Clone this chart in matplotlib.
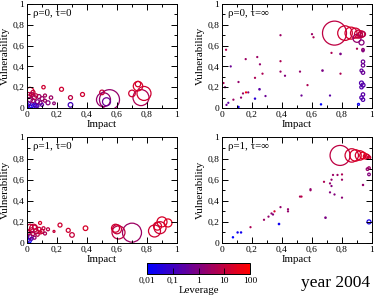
import numpy as np
import matplotlib
matplotlib.use('Agg')
import matplotlib.pyplot as plt
from matplotlib.colors import LinearSegmentedColormap, LogNorm
from matplotlib.ticker import FuncFormatter, MultipleLocator, LogLocator

plt.rcParams['font.family'] = ['Liberation Serif', 'DejaVu Serif']

# panel 1: rho=0, tau=0
imp1 = [0.02, 0.11, 0.23, 0.29, 0.37, 0.29, 0.14, 0.18, 0.16, 0.50, 0.51, 0.55, 0.53, 0.74, 0.74, 0.70, 0.78, 0.76,
        0.01, 0.03, 0.05, 0.06, 0.08, 0.10, 0.04, 0.07, 0.09, 0.02, 0.01, 0.03, 0.05, 0.07, 0.10, 0.02, 0.00, 0.12, 0.04, 0.06, 0.12]
vul1 = [0.16, 0.20, 0.18, 0.10, 0.13, 0.03, 0.05, 0.045, 0.10, 0.15, 0.08, 0.08, 0.06, 0.21, 0.23, 0.14, 0.14, 0.10,
        0.12, 0.13, 0.10, 0.12, 0.11, 0.09, 0.07, 0.06, 0.05, 0.08, 0.04, 0.02, 0.03, 0.02, 0.03, 0.01, 0.02, 0.12, 0.15, 0.02, 0.07]
lev1 = [20, 15, 15, 8, 15, 0.1, 1, 1.5, 3, 10, 2, 2, 0.5, 20, 20, 15, 15, 5,
        10, 5, 5, 8, 3, 2, 2, 1, 1, 3, 0.3, 0.05, 0.1, 0.2, 0.3, 0.02, 0.03, 4, 12, 0.05, 3]
cap1 = [4, 1.7, 2, 2, 2, 2.3, 2, 1.3, 1.7, 2.3, 7, 10, 4, 4.7, 2.7, 3.3, 7, 8,
        3, 2, 2, 1.7, 2, 2, 2, 2, 1.7, 2.5, 2, 2, 1.7, 1.5, 1.5, 2, 2.5, 1.5, 2, 2, 1.5]

# panel 2: rho=0, tau=inf
imp2 = [0.75, 0.82, 0.86, 0.89, 0.91, 0.93, 0.92, 0.94, 0.90, 0.93,
        0.94, 0.94, 0.94, 0.94, 0.93, 0.94, 0.93, 0.94, 0.93, 0.94, 0.93, 0.94, 0.91,
        0.39, 0.60, 0.61, 0.73, 0.79, 0.67, 0.79, 0.57, 0.53, 0.72, 0.66, 0.90,
        0.027, 0.158, 0.235, 0.39, 0.058, 0.253, 0.27, 0.39, 0.42, 0.52, 0.22, 0.01, 0.11, 0.02, 0.25,
        0.175, 0.16, 0.14, 0.29, 0.127, 0.22, 0.076, 0.042, 0.03, 0.11]
vul2 = [0.72, 0.72, 0.72, 0.72, 0.71, 0.71, 0.70, 0.71, 0.67, 0.63,
        0.56, 0.55, 0.445, 0.41, 0.36, 0.34, 0.24, 0.22, 0.20, 0.13, 0.10, 0.08, 0.035,
        0.70, 0.71, 0.68, 0.53, 0.52, 0.36, 0.33, 0.22, 0.12, 0.12, 0.035, 0.57,
        0.56, 0.47, 0.49, 0.45, 0.40, 0.42, 0.33, 0.35, 0.31, 0.35, 0.29, 0.24, 0.25, 0.20, 0.18,
        0.15, 0.15, 0.14, 0.115, 0.10, 0.09, 0.08, 0.05, 0.03, 0.01]
lev2 = [8, 15, 20, 15, 12, 10, 8, 6, 2, 1,
        1.5, 1, 0.5, 0.5, 0.4, 0.5, 0.2, 0.3, 0.2, 0.3, 0.2, 0.2, 0.02,
        3, 3, 5, 5, 0.8, 0.8, 5, 5, 0.5, 0.3, 0.01, 5,
        5, 3, 3, 5, 0.5, 2, 5, 3, 1, 2, 5, 5, 2, 1, 0.3,
        1, 60, 3, 0.5, 2, 0.05, 3, 0.3, 0.5, 0.02]
cap2 = [12, 7.3, 6, 5, 4, 3.3, 2.5, 2.5, 4, 2.5,
        1.3, 1, 1.7, 1.7, 1.5, 1.7, 2, 2, 1.7, 1.7, 1.7, 1.7, 1,
        0.5, 0.5, 0.5, 0.5, 0.7, 0.7, 0.5, 0.5, 0.5, 0.5, 0.6, 0.5,
        0.5, 0.5, 0.5, 0.5, 0.5, 0.5, 0.5, 0.5, 0.5, 0.5, 0.5, 0.5, 0.5, 0.5, 0.7,
        0.5, 0.5, 0.5, 0.5, 0.5, 0.6, 0.5, 0.5, 0.5, 0.6]

# panel 3: rho=1, tau=0
imp3 = [0.044, 0.015, 0.22, 0.275, 0.30, 0.39, 0.18, 0.14, 0.087, 0.12, 0.59, 0.60, 0.61, 0.70, 0.85, 0.887, 0.90, 0.94, 0.87,
        0.02, 0.03, 0.05, 0.06, 0.08, 0.10, 0.04, 0.01, 0.07, 0.02, 0.05, 0.00, 0.03, 0.01, 0.09, 0.11]
vul3 = [0.14, 0.02, 0.17, 0.12, 0.076, 0.14, 0.11, 0.13, 0.19, 0.09, 0.14, 0.13, 0.10, 0.098, 0.114, 0.145, 0.20, 0.19, 0.16,
        0.15, 0.12, 0.15, 0.11, 0.13, 0.11, 0.09, 0.10, 0.08, 0.06, 0.05, 0.07, 0.04, 0.03, 0.10, 0.14]
lev3 = [15, 0.01, 15, 15, 10, 20, 10, 8, 20, 5, 15, 10, 8, 3, 15, 15, 20, 25, 20,
        10, 12, 10, 8, 10, 10, 5, 8, 6, 1, 2, 0.5, 0.3, 0.1, 15, 12]
cap3 = [4, 2, 2, 2, 2.3, 2.3, 1, 1.5, 1.5, 1.5, 4, 4.5, 6.5, 9.5, 6, 6, 5, 4, 4,
        3, 2.5, 2, 2.5, 2, 2, 2, 2, 1.7, 2, 1.5, 2, 1.5, 1.5, 1.5, 1.5]

# panel 4: rho=1, tau=inf
imp4 = [0.787, 0.865, 0.89, 0.92, 0.94, 0.96, 0.97, 0.98, 0.98, 0.97, 0.98, 0.98,
        0.94, 0.80, 0.74, 0.77, 0.80, 0.73, 0.80, 0.68, 0.72, 0.73, 0.72, 0.75, 0.69, 0.59, 0.52,
        0.073, 0.104, 0.127, 0.19, 0.28, 0.31, 0.33, 0.34, 0.35, 0.39, 0.44, 0.44, 0.38, 0.53, 0.59]
vul4 = [0.83, 0.83, 0.83, 0.83, 0.83, 0.82, 0.82, 0.81, 0.71, 0.70, 0.65, 0.20,
        0.55, 0.43, 0.645, 0.645, 0.65, 0.60, 0.60, 0.58, 0.565, 0.54, 0.48, 0.46, 0.24, 0.51, 0.44,
        0.054, 0.10, 0.10, 0.15, 0.22, 0.25, 0.28, 0.27, 0.30, 0.34, 0.32, 0.30, 0.18, 0.44, 0.50]
lev4 = [8, 15, 20, 20, 25, 25, 20, 15, 3, 2, 1, 0.03,
        2, 1.5, 3, 3, 5, 2, 3, 5, 2, 1, 1, 1, 0.8, 2, 5,
        0.01, 0.02, 0.02, 5, 3, 2, 2, 1, 20, 2, 2, 2, 0.02, 8, 3]
cap4 = [10, 6.7, 5.7, 4.7, 3.3, 2.7, 2, 1.7, 1.3, 1.3, 1.3, 2,
        0.6, 0.5, 0.5, 0.5, 0.5, 0.5, 0.5, 0.5, 0.5, 0.5, 0.5, 0.5, 0.7, 0.5, 0.5,
        0.6, 0.6, 0.6, 0.5, 0.5, 0.5, 0.5, 0.5, 0.5, 0.5, 0.5, 0.5, 0.7, 0.5, 0.5]

panels = [
    (imp1, vul1, lev1, cap1, 'ρ=0, τ=0'),
    (imp2, vul2, lev2, cap2, 'ρ=0, τ=∞'),
    (imp3, vul3, lev3, cap3, 'ρ=1, τ=0'),
    (imp4, vul4, lev4, cap4, 'ρ=1, τ=∞'),
]

W, H = 374, 296
fig = plt.figure(figsize=(W / 100, H / 100), dpi=100)
cmap = LinearSegmentedColormap.from_list('br', [(0, 0, 1), (1, 0, 0)], N=32)
norm = LogNorm(vmin=0.01, vmax=100)

boxes = [(27, 4, 150, 104), (222, 4, 150, 104), (27, 137.5, 150, 105.5), (222, 137.5, 150, 105.5)]


def fmt(v, pos):
    if abs(v) < 1e-9:
        return '0'
    if abs(v - 1) < 1e-9:
        return '1'
    return ('%.1f' % v).replace('.', ',')


for (x, y, lev, cap, label), (bx, by, bw, bh) in zip(panels, boxes):
    ax = fig.add_axes([bx / W, 1 - (by + bh) / H, bw / W, bh / H])
    order = np.argsort(cap)[::-1]
    x = np.array(x)[order]
    y = np.array(y)[order]
    lev = np.array(lev)[order]
    r = np.array(cap)[order] * 0.72
    cols = cmap(norm(lev))
    ax.scatter(x, y, s=(2 * r) ** 2, facecolors='none', edgecolors=cols, linewidths=0.9)
    ax.set_xlim(0, 1)
    ax.set_ylim(0, 1)
    ax.xaxis.set_major_locator(MultipleLocator(0.2))
    ax.yaxis.set_major_locator(MultipleLocator(0.2))
    ax.xaxis.set_minor_locator(MultipleLocator(0.1))
    ax.yaxis.set_minor_locator(MultipleLocator(0.1))
    ax.xaxis.set_major_formatter(FuncFormatter(fmt))
    ax.yaxis.set_major_formatter(FuncFormatter(fmt))
    ax.tick_params(which='both', direction='in', top=True, right=True, labelsize=6.8, pad=2, width=0.7)
    ax.tick_params(which='major', length=4)
    ax.tick_params(which='minor', length=2)
    for sp in ax.spines.values():
        sp.set_linewidth(0.7)
    ax.set_xlabel('Impact', fontsize=7.8, labelpad=1)
    ax.set_ylabel('Vulnerability', fontsize=7.8, labelpad=2)
    ax.text(0.04, 0.91, label, transform=ax.transAxes, fontsize=7.8, va='center', ha='left')

cax = fig.add_axes([147 / W, 1 - 274 / H, 103 / W, 11 / H])
sm = matplotlib.cm.ScalarMappable(norm=norm, cmap=cmap)
cb = fig.colorbar(sm, cax=cax, orientation='horizontal')
cb.outline.set_linewidth(0.7)
cb.set_ticks([0.01, 0.1, 1, 10, 100])
cb.set_ticklabels(['0,01', '0,1', '1', '10', '100'])
cax.xaxis.set_minor_locator(LogLocator(base=10, subs=np.arange(2, 10)))
cax.tick_params(which='both', direction='in', labelsize=6.8, pad=2, width=0.6)
cax.tick_params(which='major', length=4)
cax.tick_params(which='minor', length=2)
cb.set_label('Leverage', fontsize=7.8, labelpad=1)

fig.text(370 / W, 1 - 283 / H, 'year 2004', fontsize=12.5, ha='right', va='center')

fig.savefig('out.png', dpi=100)
